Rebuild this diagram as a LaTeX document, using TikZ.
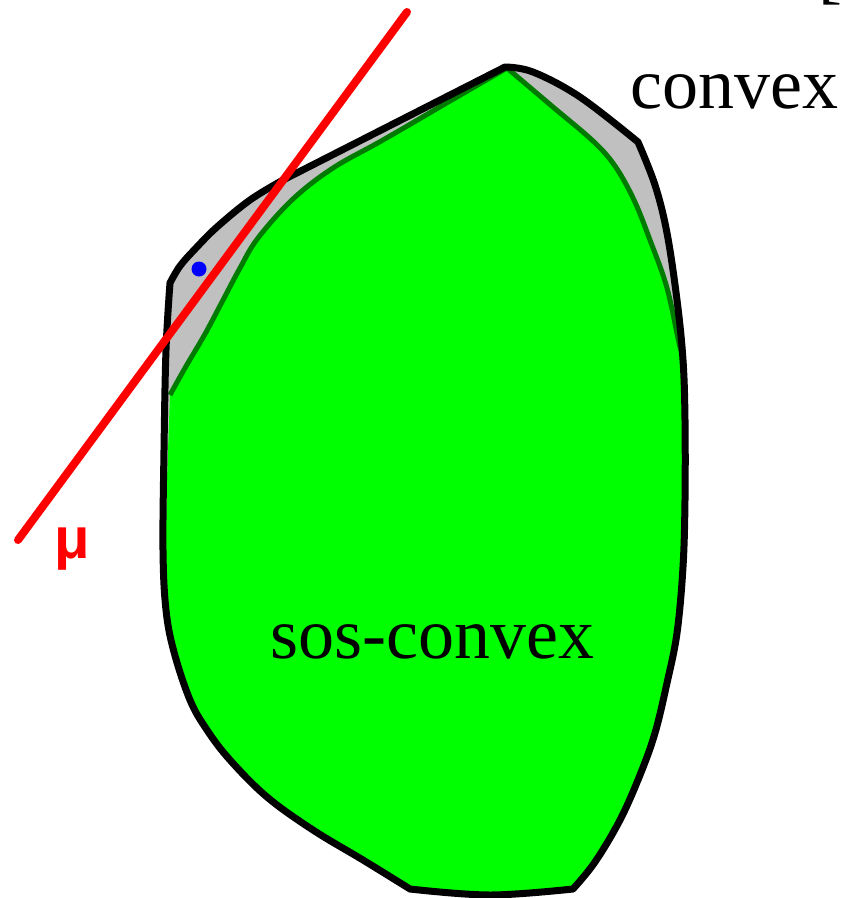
\documentclass[tikz,border=0pt]{standalone}
\usepackage{fontspec}
\setmainfont{Liberation Serif}
\newfontfamily\musans{Liberation Sans}
\usetikzlibrary{positioning}
\definecolor{HullGray}{RGB}{192,192,192}
\definecolor{SosGreen}{RGB}{0,255,0}
\definecolor{EdgeGreen}{RGB}{0,122,0}
\definecolor{CutRed}{RGB}{255,0,0}
\definecolor{PointBlue}{RGB}{0,0,255}
\newcommand{\hullpath}{(505,67) -- (283,180)
  -- plot[smooth,tension=0.6] coordinates {(283,180) (250,200) (217,227) (196,248) (180,266) (170,283)}
  -- plot[smooth,tension=0.6] coordinates {(170,283) (166,350) (164,450) (163,550) (166,610) (174,652)
       (190,700) (207,730) (230,760) (267,797) (313,830) (363,860) (410,889)}
  -- plot[smooth,tension=0.6] coordinates {(410,889) (490,895) (573,889)}
  -- plot[smooth,tension=0.6] coordinates {(573,889) (595,862) (620,820) (640,775) (655,733) (667,683)
       (677,633) (683,567) (685,500) (685,420) (683,360) (677,300) (667,233) (655,185) (638,142)}
  -- plot[smooth,tension=0.6] coordinates {(638,142) (580,97) (533,72) (505,67)}
  -- cycle}
\newcommand{\sosleft}{(170,395) -- plot[smooth,tension=0.6] coordinates {(170,395) (185,368) (205,334)
       (222,302) (240,268) (258,238) (293,199) (333,168) (383,140) (450,101) (507,68)}}
\newcommand{\sosright}{-- plot[smooth,tension=0.6] coordinates {(507,68) (553,107) (593,141) (615,166)
       (634,200) (650,240) (667,288) (680,347) (684,355)}}
\tikzset{
  hullfill/.style={fill=HullGray},
  hullline/.style={draw=black,line width=7pt,line join=round},
  sosfill/.style={fill=SosGreen},
  sosedge/.style={draw=EdgeGreen,line width=5pt,line join=round},
  supportline/.style={draw=CutRed,line width=8pt,line cap=round},
  pointdot/.style={circle,fill=PointBlue,minimum size=15pt,inner sep=0pt},
  biglabel/.style={font=\fontsize{72}{80}\selectfont,inner sep=0pt},
  mulabel/.style={font=\musans\bfseries\fontsize{58}{60}\selectfont,text=CutRed,inner sep=0pt}
}

\begin{document}
\begin{tikzpicture}[x=1pt,y=-1pt]
  \useasboundingbox (0,0) rectangle (842,898);
  \fill[hullfill] \hullpath;
  \begin{scope}
    \clip \hullpath;
    \fill[sosfill] \sosleft \sosright -- (720,355) -- (720,910) -- (140,910) -- (140,600)
      -- (165,590) -- (167,480) -- cycle;
  \end{scope}
  \draw[sosedge] \sosleft;
  \draw[sosedge] (507,68) \sosright;
  \draw[hullline] \hullpath;
  \node[pointdot] (pt) at (199,269) {};
  \coordinate (mutop) at (407,12);
  \coordinate (mubot) at (18,540);
  \draw[supportline] (mubot) -- (mutop);
  \node[biglabel,anchor=base west] (convexlbl) at (630,108) {convex};
  \node[biglabel,anchor=base west] (soslbl) at (270,658) {sos-convex};
  \node[mulabel,anchor=base west] (mulbl) at (54,558) {μ};
  \node[biglabel,anchor=base west] (citelbl) at (818,-5) {[};
\end{tikzpicture}
\end{document}
